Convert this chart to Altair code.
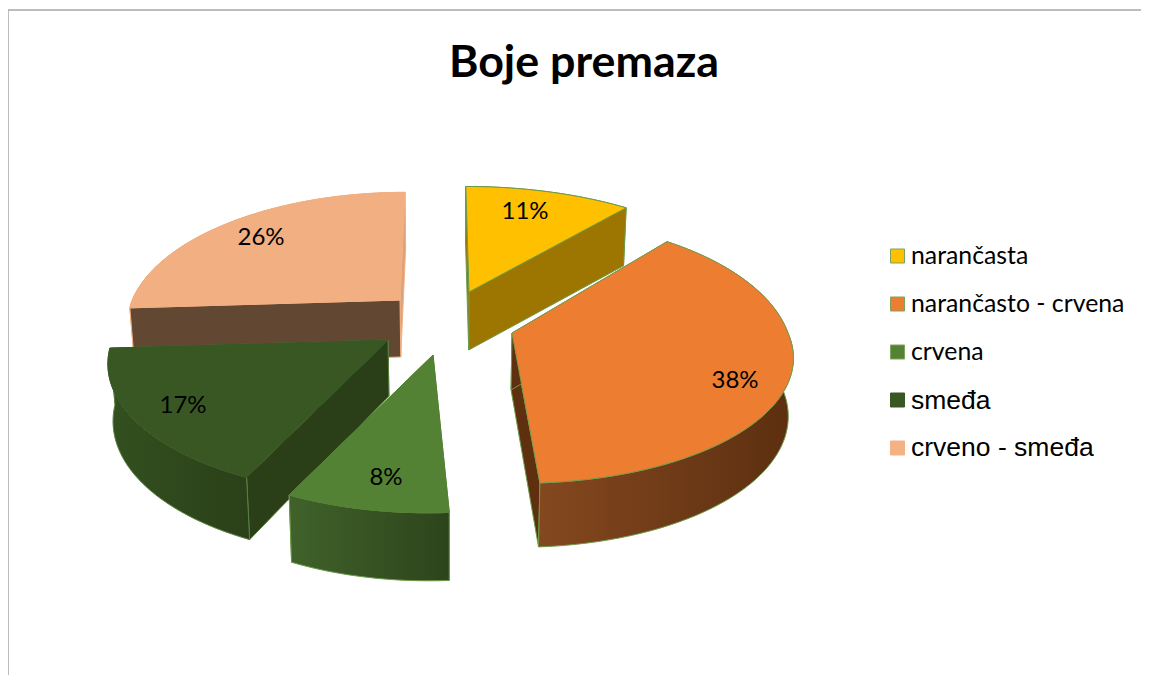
import math
import altair as alt
import pandas as pd

# --- chart values ---
TITLE = "Boje premaza"
names = ["narančasta", "narančasto - crvena", "crvena", "smeđa", "crveno - smeđa"]
values = [11, 38, 8, 17, 26]
top_colors = ["#FFC000", "#ED7D31", "#548235", "#385723", "#F2AF82"]
edge_colors = ["#6E9A4A", "#6E9A4A", "#6E9A4A", "#5A8040", "#F4B183"]
top_edges = ["#6E9A4A", "#7C9A4A", "#548235", "#385723", "#F2AF82"]
# radial wall colours (start edge, end edge) and outer wall gradient (left, right)
wall_start = ["#9C7600", "#5F300F", "#2E451C", "#2A3F18", "#624832"]
wall_end = ["#9C7600", "#5F300F", "#3E5F27", "#2A3F18", "#D9A27C"]
outer_left = ["#9C7600", "#84481F", "#40622A", "#33501F", "#624832"]
outer_right = ["#9C7600", "#5C2F10", "#2D441B", "#2B4019", "#624832"]
outer_in_front = [False, True, True, True, False]
# exploded apex of each slice on the page and small per-slice distortions
apex_x = [469, 512, 433, 388, 400]
apex_y = [292, 333, 355, 340, 300]
rx_mult = [1.03, 1.0, 1.0, 0.998, 0.97]
back_mult = [1.0, 1.085, 1.0, 1.0, 1.02]
front_mult = [1.0, 1.0, 1.05, 1.03, 1.0]
skew_front = [0.0, 0.046, -0.03, -0.015, 0.0]
skew_back = [-0.03, 0.0, 0.0, 0.0, 0.046]
depth = [58, 57, 61, 56, 57]
label_x = [525, 735, 386, 183, 261]
label_y = [212, 381, 478, 406, 238]
legend_y = [257, 305, 353, 401, 448]
legend_font = ["Lato", "Lato", "Lato", "Liberation Sans", "Liberation Sans"]
legend_size = [24.8, 24.8, 24.8, 26.5, 26.5]
legend_fill = ["#FFC000", "#ED7D31", "#548235", "#385723", "#F4B183"]
legend_edge = ["#7FA35A", "#7FA35A", "#7FA35A", "#385723", "#F4B183"]
legend_box_y = [256, 304, 352, 400, 448]

# projection of the tilted disc
R_X, R_Y, PERSP = 276, 124, 0.175
DEPTH_FRONT, SHRINK, MID_X = 7, 0.985, 450

W, H = 1133, 667
xs = alt.Scale(domain=[8, 8 + W], range=[0, W], nice=False, zero=False)
ys = alt.Scale(domain=[8 + H, 8], range=[H, 0], nice=False, zero=False)


def rim(k, t):
    u, v = math.sin(t), math.cos(t)
    s = 1 / (1 + PERSP * v)
    dy = -R_Y * v * s * (back_mult[k] if v > 0 else front_mult[k])
    dx = R_X * rx_mult[k] * u * s + (skew_front[k] * dy if dy > 0 else -skew_back[k] * dy)
    return apex_x[k] + dx, apex_y[k] + dy, v


def lower(k, x, y, v):
    return MID_X + (x - MID_X) * SHRINK, y + depth[k] - DEPTH_FRONT * min(v, 0)


def poly(points, fill, stroke, width=1):
    df = pd.DataFrame(points + points[:1], columns=["x", "y"])
    df["i"] = range(len(df))
    return alt.Chart(df).mark_line(
        fill=fill, stroke=stroke, strokeWidth=width, strokeJoin="round"
    ).encode(
        x=alt.X("x:Q", scale=xs, axis=None),
        y=alt.Y("y:Q", scale=ys, axis=None),
        order="i:Q",
    )


def gradient(left, right):
    return alt.LinearGradient(
        gradient="linear", x1=0, x2=1, y1=0, y2=0,
        stops=[alt.GradientStop(offset=0, color=left), alt.GradientStop(offset=1, color=right)],
    )


total = sum(values)
starts = [sum(values[:i]) / total * 2 * math.pi for i in range(len(values))]
ends = [sum(values[: i + 1]) / total * 2 * math.pi for i in range(len(values))]

layers = []
for k in [4, 0, 3, 1, 2]:  # painter's order, back to front
    cx, cy = apex_x[k], apex_y[k]
    n = max(8, values[k] * 2)
    arc = [rim(k, starts[k] + (ends[k] - starts[k]) * j / n) for j in range(n + 1)]
    top = [(a[0], a[1]) for a in arc]
    bottom = [lower(k, *a) for a in arc]
    ab = lower(k, cx, cy, 0)
    edge = edge_colors[k]
    outer = poly(top + bottom[::-1], gradient(outer_left[k], outer_right[k]), edge)
    if not outer_in_front[k]:
        layers.append(outer)
    layers.append(poly([(cx, cy), top[-1], bottom[-1], ab], wall_end[k], edge))
    layers.append(poly([(cx, cy), top[0], bottom[0], ab], wall_start[k], edge))
    if outer_in_front[k]:
        layers.append(outer)
    layers.append(poly([(cx, cy)] + top, top_colors[k], top_edges[k]))

# chart frame (top and left edge)
frame = pd.DataFrame({"x": [8, 8, 8 + W], "y": [8 + H, 10, 10], "i": [0, 1, 2]})
frame_layer = alt.Chart(frame).mark_line(stroke="#A6A6A6", strokeWidth=1.5).encode(
    x=alt.X("x:Q", scale=xs, axis=None), y=alt.Y("y:Q", scale=ys, axis=None), order="i:Q"
)

title_layer = alt.Chart(pd.DataFrame({"t": [TITLE], "x": [584], "y": [64]})).mark_text(
    font="Lato", fontSize=44.8, fontWeight="bold", color="#000000"
).encode(x=alt.X("x:Q", scale=xs, axis=None), y=alt.Y("y:Q", scale=ys, axis=None), text="t:N")

pct = pd.DataFrame({"t": [f"{v}%" for v in values], "x": label_x, "y": label_y})
pct_layer = alt.Chart(pct).mark_text(font="Lato", fontSize=24, color="#000000").encode(
    x=alt.X("x:Q", scale=xs, axis=None), y=alt.Y("y:Q", scale=ys, axis=None), text="t:N"
)

legend_layers = []
for i, name in enumerate(names):
    row = pd.DataFrame({"x": [897.5], "tx": [911], "by": [legend_box_y[i]], "y": [legend_y[i]], "t": [name]})
    legend_layers.append(
        alt.Chart(row).mark_square(
            size=196, fill=legend_fill[i], stroke=legend_edge[i], strokeWidth=1, opacity=1
        ).encode(x=alt.X("x:Q", scale=xs, axis=None), y=alt.Y("by:Q", scale=ys, axis=None))
    )
    legend_layers.append(
        alt.Chart(row).mark_text(
            font=legend_font[i], fontSize=legend_size[i], align="left", color="#000000"
        ).encode(x=alt.X("tx:Q", scale=xs, axis=None), y=alt.Y("y:Q", scale=ys, axis=None), text="t:N")
    )

chart = alt.layer(frame_layer, *layers, title_layer, pct_layer, *legend_layers).properties(
    width=W, height=H, padding=0, autosize=alt.AutoSizeParams(type="none"), background="#FFFFFF"
).configure_view(stroke=None)

chart.save("out.html", embed_options={"renderer": "svg", "actions": False})
